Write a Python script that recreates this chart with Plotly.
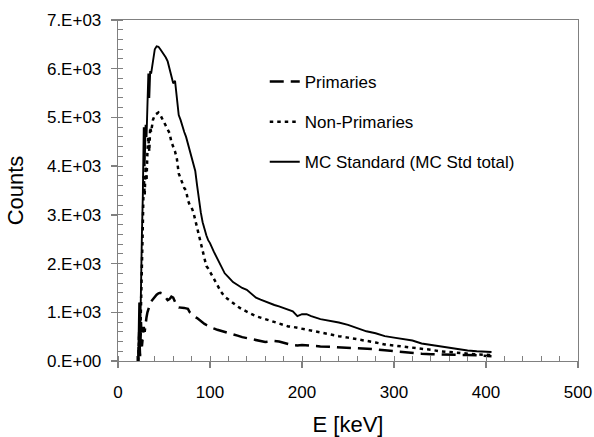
import plotly.graph_objects as go

# Energy grid [keV]
energy = [22, 23, 24, 25, 26, 27, 28, 29, 30, 31, 32, 33, 34, 35, 36, 38, 40, 42, 44, 46,
          48, 50, 52, 54, 56, 58, 60, 62, 64, 66, 68, 70, 72, 74, 76, 78, 80, 82, 84, 86,
          88, 90, 92, 94, 96, 98, 100, 104, 108, 112, 116, 120, 125, 130, 135, 140, 145, 150,
          155, 160, 165, 170, 175, 180, 185, 190, 195, 200, 205, 210, 220, 230, 240, 250,
          260, 270, 280, 290, 300, 310, 320, 330, 340, 350, 360, 370, 380, 390, 400, 406]

primaries = [0, 600, 100, 800, 300, 500, 700, 600, 850, 900, 1000, 1080, 1120, 1180, 1220, 1270,
             1320, 1360, 1390, 1400, 1390, 1340, 1280, 1250, 1270, 1320, 1300, 1200, 1130, 1100,
             1100, 1090, 1090, 1080, 1070, 1000, 960, 930, 900, 880, 850, 810, 780, 760, 740, 720,
             700, 670, 640, 620, 600, 580, 560, 520, 490, 470, 440, 420, 400, 390, 400, 410, 400,
             370, 350, 330, 320, 330, 320, 310, 300, 290, 280, 275, 270, 265, 240, 220, 200, 180,
             165, 150, 140, 130, 130, 125, 125, 110, 105, 100]

non_primaries = [0, 500, 300, 1000, 2200, 2800, 3800, 3400, 4000, 3700, 4300, 4600, 4300, 4800,
                 4700, 4950, 5050, 5080, 5100, 5050, 4980, 4900, 4820, 4750, 4680, 4500, 4400,
                 4300, 4150, 3850, 3750, 3650, 3550, 3500, 3300, 3200, 3150, 3050, 2900, 2750,
                 2600, 2400, 2250, 2100, 1950, 1900, 1830, 1700, 1550, 1420, 1320, 1260, 1190,
                 1120, 1060, 1010, 960, 920, 890, 860, 830, 800, 770, 740, 710, 700, 680, 660,
                 640, 620, 580, 540, 510, 480, 450, 420, 380, 340, 320, 300, 270, 250, 230, 200,
                 180, 160, 145, 135, 128, 125]

total = [0, 1200, 400, 1800, 2600, 3400, 4800, 4000, 4850, 4600, 5300, 5900, 5400, 5950, 5900,
         6200, 6400, 6460, 6450, 6400, 6350, 6300, 6230, 6150, 6000, 5800, 5700, 5750, 5450,
         5050, 4950, 4800, 4700, 4600, 4450, 4300, 4150, 4050, 3900, 3600, 3300, 3050, 2850,
         2700, 2580, 2480, 2420, 2250, 2100, 1950, 1800, 1720, 1620, 1560, 1500, 1460, 1380,
         1300, 1260, 1220, 1190, 1150, 1120, 1090, 1060, 1020, 920, 960, 960, 920, 860, 830,
         790, 740, 670, 610, 570, 510, 480, 450, 420, 360, 330, 300, 260, 235, 215, 200, 190, 185]

y_tick_vals = [0, 1000, 2000, 3000, 4000, 5000, 6000, 7000]
y_tick_text = ["0.E+00", "1.E+03", "2.E+03", "3.E+03", "4.E+03", "5.E+03", "6.E+03", "7.E+03"]
x_tick_vals = [0, 100, 200, 300, 400, 500]

FONT = "Liberation Sans, Arial, sans-serif"
AX = "#808080"

fig = go.Figure()
fig.add_trace(go.Scatter(x=energy, y=primaries, mode="lines", name="Primaries",
                         legendgroup="a",
                         line=dict(color="black", width=2.5, dash="14px,7px")))
fig.add_trace(go.Scatter(x=energy, y=non_primaries, mode="lines", name="Non-Primaries",
                         legendgroup="b",
                         line=dict(color="black", width=2.5, dash="3.5px,4px")))
fig.add_trace(go.Scatter(x=energy, y=total, mode="lines", name="MC Standard (MC Std total)",
                         legendgroup="c",
                         line=dict(color="black", width=1.9)))

fig.update_layout(
    width=594, height=437,
    margin=dict(l=118, r=16, t=20, b=76),
    paper_bgcolor="white", plot_bgcolor="white",
    font=dict(family=FONT, size=17, color="black"),
    showlegend=True,
    legend=dict(x=0.319, y=0.871, xanchor="left", yanchor="top",
                bgcolor="rgba(0,0,0,0)", font=dict(size=17, family=FONT),
                tracegroupgap=15, traceorder="grouped"),
    xaxis=dict(range=[0, 500], tickvals=x_tick_vals, showgrid=False, zeroline=False,
               automargin=False,
               showline=True, linecolor=AX, linewidth=1.3, mirror=True,
               ticks="outside", ticklen=6, tickcolor=AX, tickwidth=1.3,
               tickfont=dict(size=17), ticklabelstandoff=9,
               minor=dict(dtick=20, ticks="inside", ticklen=5, tickcolor=AX, tickwidth=1),
               title=dict(text="E [keV]", font=dict(size=22), standoff=18)),
    yaxis=dict(range=[0, 7000], tickvals=y_tick_vals, ticktext=y_tick_text,
               showgrid=False, zeroline=False, automargin=False,
               showline=True, linecolor=AX, linewidth=1.3, mirror=True,
               ticks="outside", ticklen=6, tickcolor=AX, tickwidth=1.3,
               tickfont=dict(size=17), ticklabelstandoff=6,
               minor=dict(dtick=200, ticks="inside", ticklen=5, tickcolor=AX, tickwidth=1),
               title=dict(text="Counts", font=dict(size=22), standoff=17)),
)

# remove the default page margin so the figure fills the window exactly
fig.write_html("out.html",
               config={"displayModeBar": False, "staticPlot": True},
               post_script="document.body.style.margin='0';document.body.style.overflow='hidden';")
